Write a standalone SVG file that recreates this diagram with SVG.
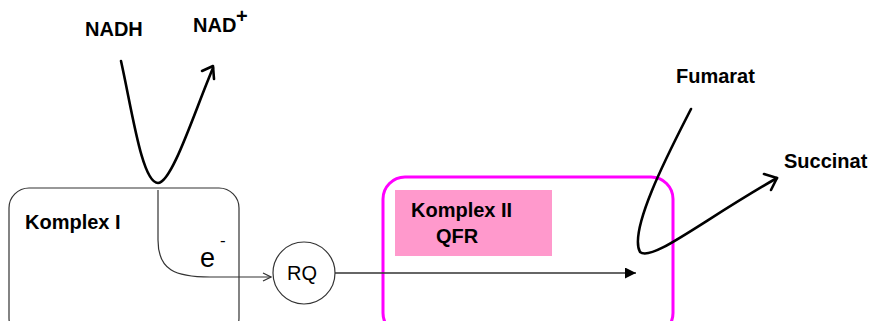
<svg xmlns="http://www.w3.org/2000/svg" width="874" height="321" viewBox="0 0 874 321">
  <defs>
    <style>
      .lbl { font-family: "Liberation Sans", Arial, sans-serif; font-weight: bold; font-size: 20px; fill: #000; }
      .reg { font-family: "Liberation Sans", Arial, sans-serif; fill: #000; }
      .thin { fill: none; stroke: #333; stroke-width: 1.2; }
      .hand { fill: none; stroke: #000; stroke-width: 2.6; stroke-linecap: round; stroke-linejoin: round; }
    </style>
    <marker id="open" viewBox="0 0 10 10" refX="9" refY="5" markerWidth="10" markerHeight="10" markerUnits="userSpaceOnUse" orient="auto">
      <path d="M1,1 L9,5 L1,9" fill="none" stroke="#333" stroke-width="1.2"/>
    </marker>
    <marker id="solid" viewBox="0 0 10 10" refX="10" refY="5" markerWidth="12" markerHeight="11" markerUnits="userSpaceOnUse" orient="auto">
      <path d="M0,0 L10,5 L0,10 Z" fill="#000"/>
    </marker>
  </defs>
  <rect width="874" height="321" fill="#fff"/>

  <g id="komplex-1">
    <rect class="thin" x="9" y="188" width="230" height="150" rx="20"/>
    <text class="lbl" x="25" y="229">Komplex I</text>
  </g>

  <g id="rq">
    <circle class="thin" cx="304" cy="273" r="31"/>
    <text class="reg" x="287" y="280" font-size="20">RQ</text>
  </g>

  <g id="komplex-2">
    <rect x="383" y="177" width="290" height="158" rx="22" fill="none" stroke="#ff00ff" stroke-width="3"/>
    <rect x="395" y="190" width="157" height="66" fill="#ff99cc"/>
    <text class="lbl" x="411" y="217">Komplex II</text>
    <text class="lbl" x="436" y="243">QFR</text>
  </g>

  <g id="nadh">
    <text class="lbl" x="85" y="36">NADH</text>
  </g>
  <g id="nad">
    <text class="lbl" x="193" y="32">NAD</text>
    <text class="lbl" x="236" y="23" font-size="17">+</text>
  </g>
  <g id="fumarat">
    <text class="lbl" x="676" y="83">Fumarat</text>
  </g>
  <g id="succinat">
    <text class="lbl" x="784" y="168">Succinat</text>
  </g>
  <g id="electron">
    <text class="reg" x="200" y="267" font-size="27">e</text>
    <text class="reg" x="220" y="246" font-size="17">-</text>
  </g>

  <g id="connectors">
    <!-- NADH to NAD+ -->
    <path class="hand" d="M121,61 C132,110 142,183 158,183 C172,183 195,110 213,68"/>
    <path class="hand" d="M202,71 L213,66 L214,79"/>
    <!-- electron path into RQ -->
    <path class="thin" d="M158,190 L158,240 C158,270 175,277 210,277 L271,277" marker-end="url(#open)"/>
    <!-- RQ to Komplex II -->
    <path d="M335,273 L636,273" stroke="#333" stroke-width="1.5" fill="none" marker-end="url(#solid)"/>
    <!-- Fumarat to Succinat -->
    <path class="hand" d="M691,109 C670,150 628,230 640,252 C652,262 700,222 777,178"/>
    <path class="hand" d="M764,174 L777,178 L771,190"/>
  </g>
</svg>
